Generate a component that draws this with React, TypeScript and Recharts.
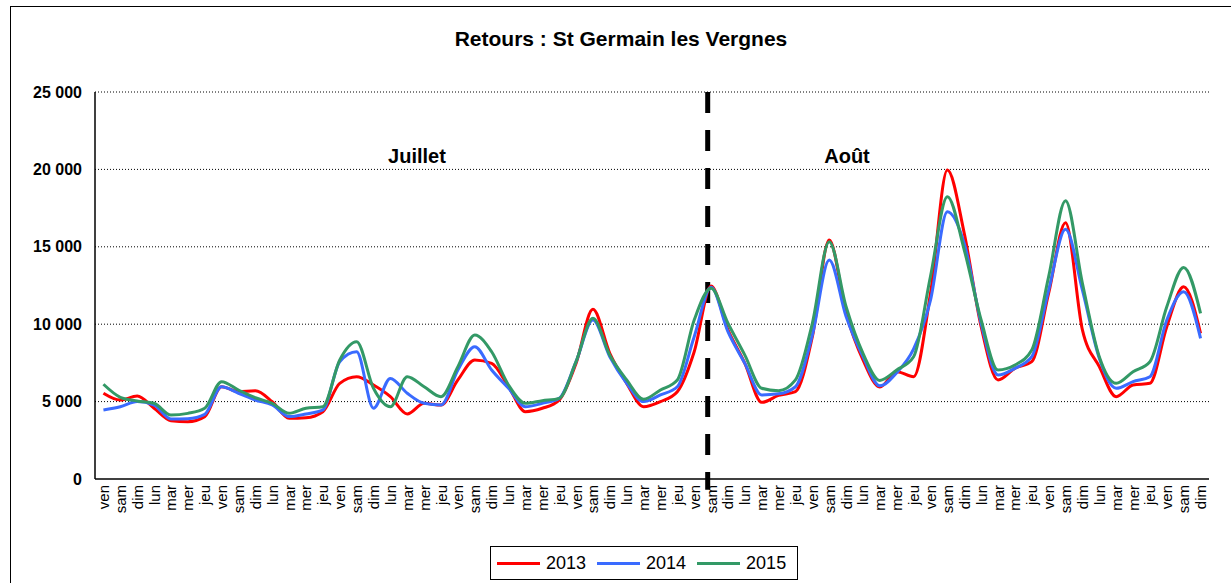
import { LineChart, Line, XAxis, YAxis, CartesianGrid, ReferenceLine } from 'recharts'

// jours affichés sous l'axe (du ven. début juillet au dim. fin août)
const DAYS = [
  'ven', 'sam', 'dim', 'lun', 'mar', 'mer', 'jeu',
  'ven', 'sam', 'dim', 'lun', 'mar', 'mer', 'jeu',
  'ven', 'sam', 'dim', 'lun', 'mar', 'mer', 'jeu',
  'ven', 'sam', 'dim', 'lun', 'mar', 'mer', 'jeu',
  'ven', 'sam', 'dim', 'lun', 'mar', 'mer', 'jeu',
  'ven', 'sam', 'dim', 'lun', 'mar', 'mer', 'jeu',
  'ven', 'sam', 'dim', 'lun', 'mar', 'mer', 'jeu',
  'ven', 'sam', 'dim', 'lun', 'mar', 'mer', 'jeu',
  'ven', 'sam', 'dim', 'lun', 'mar', 'mer', 'jeu',
  'ven', 'sam', 'dim',
]

const Y2013 = [
  5540, 5100, 5360, 4570, 3770, 3700, 4030, 5960, 5640, 5700, 4990, 3920, 3960, 4350,
  6180, 6610, 6070, 5320, 4200, 4890, 4780, 6400, 7690, 7470, 5960, 4350, 4570, 5100,
  7470, 10960, 8120, 6180, 4670, 5000, 5640, 8220, 12470, 9630, 7470, 4950, 5400, 5640,
  9190, 15440, 10700, 7690, 5940, 6930, 6610, 12000, 19960, 15870, 9840, 6400, 7150, 7580,
  12000, 16560, 9630, 7260, 5320, 6070, 6180, 9840, 12420, 9410,
]

const Y2014 = [
  4460, 4670, 5000, 4780, 3880, 3900, 4180, 5960, 5540, 5100, 4780, 4030, 4200, 4460,
  7580, 8220, 4570, 6500, 5540, 4890, 4780, 7040, 8550, 7040, 5860, 4670, 4890, 5210,
  7580, 10270, 7900, 6180, 5000, 5430, 5960, 9190, 12380, 9520, 7470, 5430, 5500, 5960,
  9300, 14150, 10490, 7900, 6020, 6870, 8400, 11560, 17270, 15220, 10060, 6720, 7150, 7900,
  12200, 16130, 12200, 7800, 5860, 6290, 6610, 10270, 12100, 9090,
]

const Y2015 = [
  6120, 5280, 5040, 4890, 4130, 4240, 4570, 6290, 5750, 5250, 4890, 4240, 4570, 4670,
  7690, 8870, 5860, 4670, 6610, 5960, 5320, 7260, 9300, 8220, 6070, 4890, 5060, 5210,
  7580, 10380, 8000, 6400, 5150, 5750, 6400, 10270, 12320, 10060, 8000, 5860, 5700, 6400,
  10060, 15330, 11130, 8120, 6370, 7040, 7900, 13100, 18240, 14790, 10270, 7040, 7360, 8330,
  13070, 17980, 12640, 7900, 6180, 6930, 7580, 11130, 13670, 10700,
]

const SERIES = [
  { key: 'y2013', name: '2013', color: '#ff0000' },
  { key: 'y2014', name: '2014', color: '#3a6bff' },
  { key: 'y2015', name: '2015', color: '#339966' },
]

const Y_TICKS = [0, 5000, 10000, 15000, 20000, 25000]
const MONTH_SPLIT = 36.3

const data = DAYS.map((d, i) => ({
  x: i + 0.5,
  day: d,
  y2013: Y2013[i],
  y2014: Y2014[i],
  y2015: Y2015[i],
}))

const labelTicks = DAYS.map((_, i) => i + 0.5)
const boundaryTicks = Array.from({ length: DAYS.length + 1 }, (_, i) => i)

const FONT = '"Liberation Sans", Arial, sans-serif'

function DayTick({ x, y, payload }: any) {
  const label = DAYS[Math.floor(payload.value)]
  return (
    <text
      x={x}
      y={y}
      transform={`rotate(-90 ${x} ${y})`}
      textAnchor="end"
      dominantBaseline="central"
      fontSize={15}
      fontFamily={FONT}
      fill="#000"
    >
      {label}
    </text>
  )
}

const fmt = (v: number) => v.toLocaleString('fr-FR').replace(/\s/g, ' ')

export default function App() {
  return (
    <div
      style={{
        position: 'absolute',
        left: 0,
        top: 0,
        width: 1231,
        height: 583,
        overflow: 'hidden',
        background: '#fff',
        fontFamily: FONT,
      }}
    >
      {/* cadre */}
      <div
        style={{
          position: 'absolute',
          left: 10,
          top: 6,
          width: 1240,
          height: 600,
          borderTop: '1px solid #000',
          borderLeft: '1px solid #000',
        }}
      />
      <div
        style={{
          position: 'absolute',
          left: 0,
          width: 1242,
          top: 27,
          textAlign: 'center',
          fontSize: 21,
          fontWeight: 'bold',
        }}
      >
        Retours : St Germain les Vergnes
      </div>

      <LineChart
        width={1231}
        height={583}
        data={data}
        margin={{ top: 92, right: 22, left: 15, bottom: 54 }}
        style={{ position: 'absolute', left: 0, top: 0 }}
      >
        <CartesianGrid
          vertical={false}
          stroke="#000"
          strokeDasharray="1 2"
          horizontalValues={[5000, 10000, 15000, 20000, 25000]}
        />
        <XAxis
          xAxisId="grid"
          type="number"
          dataKey="x"
          domain={[0, DAYS.length]}
          ticks={boundaryTicks}
          interval={0}
          tick={false}
          mirror
          tickSize={6}
          axisLine={false}
          tickLine={{ stroke: '#000' }}
          height={0}
        />
        <XAxis
          xAxisId="days"
          type="number"
          dataKey="x"
          domain={[0, DAYS.length]}
          ticks={labelTicks}
          interval={0}
          tick={<DayTick />}
          tickLine={false}
          tickSize={6}
          tickMargin={0}
          axisLine={{ stroke: '#000', strokeWidth: 1.5 }}
          height={50}
        />
        <YAxis
          domain={[0, 25000]}
          ticks={Y_TICKS}
          interval={0}
          tickFormatter={fmt}
          width={80}
          tickLine={false}
          tickSize={6}
          tickMargin={7}
          axisLine={{ stroke: '#000', strokeWidth: 1.5 }}
          tick={{ fill: '#000', fontSize: 16, fontWeight: 'bold', fontFamily: FONT }}
        />
        <ReferenceLine
          xAxisId="days"
          segment={[
            { x: MONTH_SPLIT, y: 25000 },
            { x: MONTH_SPLIT, y: -700 },
          ]}
          ifOverflow="visible"
          stroke="#000"
          strokeWidth={5}
          strokeDasharray="21 17"
        />
        {SERIES.map((s) => (
          <Line
            key={s.key}
            xAxisId="days"
            type="monotone"
            dataKey={s.key}
            name={s.name}
            stroke={s.color}
            strokeWidth={3}
            dot={false}
            isAnimationActive={false}
          />
        ))}
      </LineChart>

      <div style={{ position: 'absolute', left: 367, top: 145, width: 100, textAlign: 'center', fontSize: 20, fontWeight: 'bold' }}>
        Juillet
      </div>
      <div style={{ position: 'absolute', left: 797, top: 145, width: 100, textAlign: 'center', fontSize: 20, fontWeight: 'bold' }}>
        Août
      </div>

      {/* légende */}
      <div
        style={{
          position: 'absolute',
          left: 490,
          top: 546,
          width: 308,
          height: 34,
          boxSizing: 'border-box',
          border: '1px solid #000',
          display: 'flex',
          alignItems: 'center',
          paddingLeft: 6,
          gap: 11,
        }}
      >
        {SERIES.map((s) => (
          <div key={s.key} style={{ display: 'flex', alignItems: 'center', gap: 6 }}>
            <div style={{ width: 43, height: 3, background: s.color }} />
            <span style={{ fontSize: 18 }}>{s.name}</span>
          </div>
        ))}
      </div>
    </div>
  )
}
